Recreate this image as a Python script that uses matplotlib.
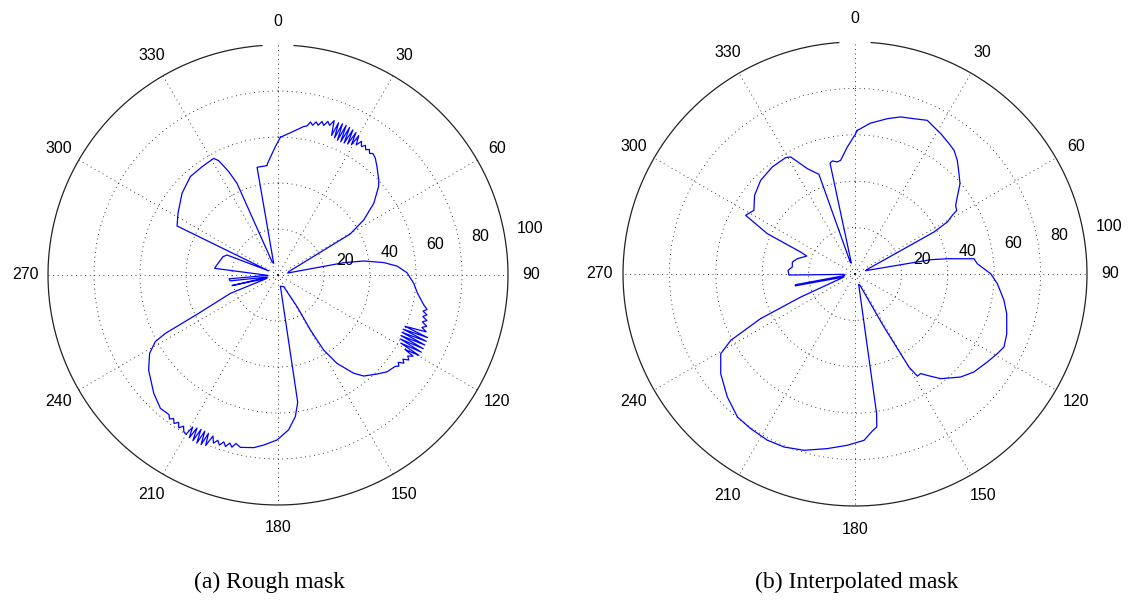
import numpy as np
import matplotlib
matplotlib.use('Agg')
import matplotlib.pyplot as plt

# angles in degrees (clockwise from north), magnitudes
ang_rough = [1, 5, 9.8, 11, 12, 13, 14, 15, 16, 17, 18, 19, 20,
             21.0, 21.7, 22.4, 23.1, 23.8, 24.5, 25.2, 25.9, 26.6, 27.3, 28.0, 28.7, 29.4, 30.1,
             31, 32, 33, 34, 35, 36, 37, 38, 39.8, 42.4, 46.7, 48.7, 53.2, 57.3, 60.4, 72.6, 78.5,
             79.4, 80.7, 83.3, 85.7, 89, 93.5, 97.5, 101.6,
             103, 104, 105, 106, 107, 108, 109, 110, 111,
             112.0, 112.7, 113.4, 114.1, 114.8, 115.5, 116.2, 116.9, 117.6, 118.3, 119.0, 119.7, 120.4,
             121, 122, 123, 124, 125, 126, 127, 128,
             131.6, 135, 139.7, 142.4, 146.3, 148.7, 149.5, 149, 154, 168,
             171.2, 173, 176.1, 180.3, 184.8, 188, 192.3,
             194, 195, 196, 197, 198, 199, 200, 201, 202,
             203.0, 203.7, 204.4, 205.1, 205.8, 206.5, 207.2, 207.9, 208.6, 209.3, 210.0,
             211, 212, 213, 214, 215, 216, 217, 218,
             221.4, 226.4, 233.7, 238.6, 241.5, 242.6, 244.1, 248.9, 253.1,
             257, 259, 263, 265.5, 268,
             276, 279, 288.4, 291.4, 294,
             295.9, 301.7, 310.4, 318.3, 325, 331.1, 332.6, 334.5, 335.9, 335.8, 339.6,
             349, 354.3, 354.7, 358.8]
mag_rough = [59.9, 62.1, 65.5, 66.0, 68.0, 66.8, 68.6, 67.4, 69.4, 68.0, 70.2, 68.8, 71.4,
             65.0, 71.2, 64.5, 71.5, 64.0, 71.5, 64.0, 71.3, 64.2, 71.0, 64.5, 70.6, 65.0, 70.0,
             66.0, 68.5, 66.6, 68.0, 66.5, 67.5, 66.2, 67.0, 66.1, 63.8, 60.2, 58.2, 52.0, 44.3, 36.1, 4.9, 4.3,
             29.0, 37.7, 46.3, 51.9, 56.1, 59.1, 61.2, 64.7,
             66.5, 65.0, 67.0, 65.5, 67.7, 66.0, 68.4, 66.6, 69.0,
             59.5, 70.5, 59.3, 70.6, 59.4, 70.7, 59.6, 70.8, 60.0, 70.8, 61.0, 70.5, 64.0,
             68.5, 66.5, 67.8, 65.5, 66.8, 64.6, 65.8, 64.6,
             63.4, 60.9, 57.6, 53.9, 46.2, 38.2, 27.7, 16.1, 5.6, 5.0,
             56.0, 62.0, 67.5, 71.7, 74.2, 75.8, 76.7,
             75.5, 77.5, 76.0, 78.0, 76.3, 78.2, 76.5, 78.3, 75.5,
             80.5, 75.2, 81.0, 75.0, 81.2, 75.0, 81.0, 75.3, 80.6, 75.8, 80.0,
             79.5, 77.5, 79.2, 77.3, 78.8, 77.2, 78.4, 77.0,
             77.3, 74.6, 69.8, 65.4, 60.7, 55.2, 39.1, 22.2, 5.0,
             20.5, 4.5, 21.0, 21.3, 4.5,
             27.7, 27.0, 25.2, 23.8, 4.5,
             48.8, 51.1, 54.8, 57.3, 57.5, 57.9, 56.0, 49.8, 43.7, 6.4, 5.4,
             47.7, 47.8, 48.8, 55.8]

ang_interp = [0.9, 5.9, 11.8, 16.2, 20.8, 25.2, 28.3, 31.4, 35.8, 38.7,
              42, 46, 49.3, 53, 55.7, 58, 58.9, 60.6, 62, 69.6,
              72.6, 79.3, 80.6, 82.7, 85.2, 89.9, 93.9, 100, 104.7, 111.5,
              116.1, 119.2, 123.6, 129.5, 134.3, 140.7, 144.5, 146.6, 148.6, 149.9,
              150.2, 151.3, 156.2, 160.5, 171.2, 171.9, 173.7, 176.9, 182.6, 189,
              196.1, 202.3, 207.8, 214, 219.4, 226.1, 233.4, 239.3, 241.9, 244.7,
              247, 254.7, 258.8, 259.8, 261.5, 268, 269.1, 273.1, 276.4, 280.8, 284.9,
              290.4, 292, 294.7, 298.2, 302.2, 308.1, 314.8, 322.3, 329.2, 331.2,
              335.7, 340.1, 338, 341.6, 347.3, 348.7, 351, 352.8, 356.5, 359.9]
mag_interp = [61.9, 65.4, 68.4, 70.5, 71.6, 73.2, 71.9, 70.9, 69.3, 68.3,
              65.9, 62.3, 59.7, 55.2, 52.5, 51.7, 49.0, 45.7, 38.6, 5.4,
              4.8, 33.2, 40.3, 51.7, 52.9, 58.5, 61.5, 65.2, 67.6, 70.3,
              71.5, 70.3, 68.5, 66.4, 63.6, 58.3, 53.7, 51.4, 51.6, 46.4,
              39.6, 26.0, 5.3, 4.7, 60.9, 66.6, 68.1, 71.8, 73.9, 76.2,
              79.1, 80.6, 81.0, 80.4, 79.8, 76.4, 72.1, 67.3, 60.7, 45.0,
              25.4, 4.9, 26.3, 26.0, 4.5, 4.7, 28.5, 28.9, 27.2, 27.5, 25.7,
              22.2, 25.3, 41.6, 53.5, 51.5, 55.0, 57.3, 58.3, 58.4, 57.6,
              49.8, 45.7, 5.4, 5.0, 49.0, 49.7, 48.9, 49.4, 54.8, 59.8]

rings = [20, 40, 60, 80, 100]
spokes = list(range(0, 360, 30))
captions = ['(a) Rough mask', '(b) Interpolated mask']

lab_font = ['Liberation Sans', 'DejaVu Sans']


def polar_panel(fig, rect, ang, mag):
    ax = fig.add_axes(rect, projection='polar')
    ax.set_theta_zero_location('N')
    ax.set_theta_direction(-1)
    ax.set_ylim(0, 100)
    ax.set_yticks(rings[:-1])
    ax.set_yticklabels([''] * len(rings[:-1]))
    ax.set_xticks(np.radians(spokes))
    ax.set_xticklabels([''] * len(spokes))
    ax.tick_params(length=0)
    ax.grid(True, color='k', linestyle=(0, (1, 4.5)), linewidth=0.6)
    ax.spines['polar'].set_visible(False)

    # outer ring, left open at the top as in the original
    t = np.radians(np.linspace(4, 356, 400))
    ax.plot(t, np.full_like(t, 100.0), color='#222222', lw=0.9, clip_on=False)

    th = np.radians(ang + ang[:1])
    rr = mag + mag[:1]
    ax.plot(th, rr, color='#0000ff', lw=0.9)

    for a in spokes:
        ax.text(np.radians(a), 110, str(a), ha='center', va='center',
                fontsize=11.5, family=lab_font, clip_on=False)
    for r in rings:
        ax.text(np.radians(80), r + 5.5, str(r), ha='left', va='baseline',
                fontsize=11.5, family=lab_font, clip_on=False)
    return ax


fig = plt.figure(figsize=(11.29, 6.05), dpi=100)
polar_panel(fig, [0.04252, 0.1653, 0.40744, 0.76033], ang_rough, mag_rough)
polar_panel(fig, [0.55182, 0.16364, 0.41098, 0.76694], ang_interp, mag_interp)

fig.text(270 / 1129, 1 - 582 / 605, captions[0], ha='center', va='center',
         fontsize=17, family=['Liberation Serif', 'DejaVu Serif'])
fig.text(857 / 1129, 1 - 582 / 605, captions[1], ha='center', va='center',
         fontsize=17, family=['Liberation Serif', 'DejaVu Serif'])

fig.savefig('out.png', dpi=100)
